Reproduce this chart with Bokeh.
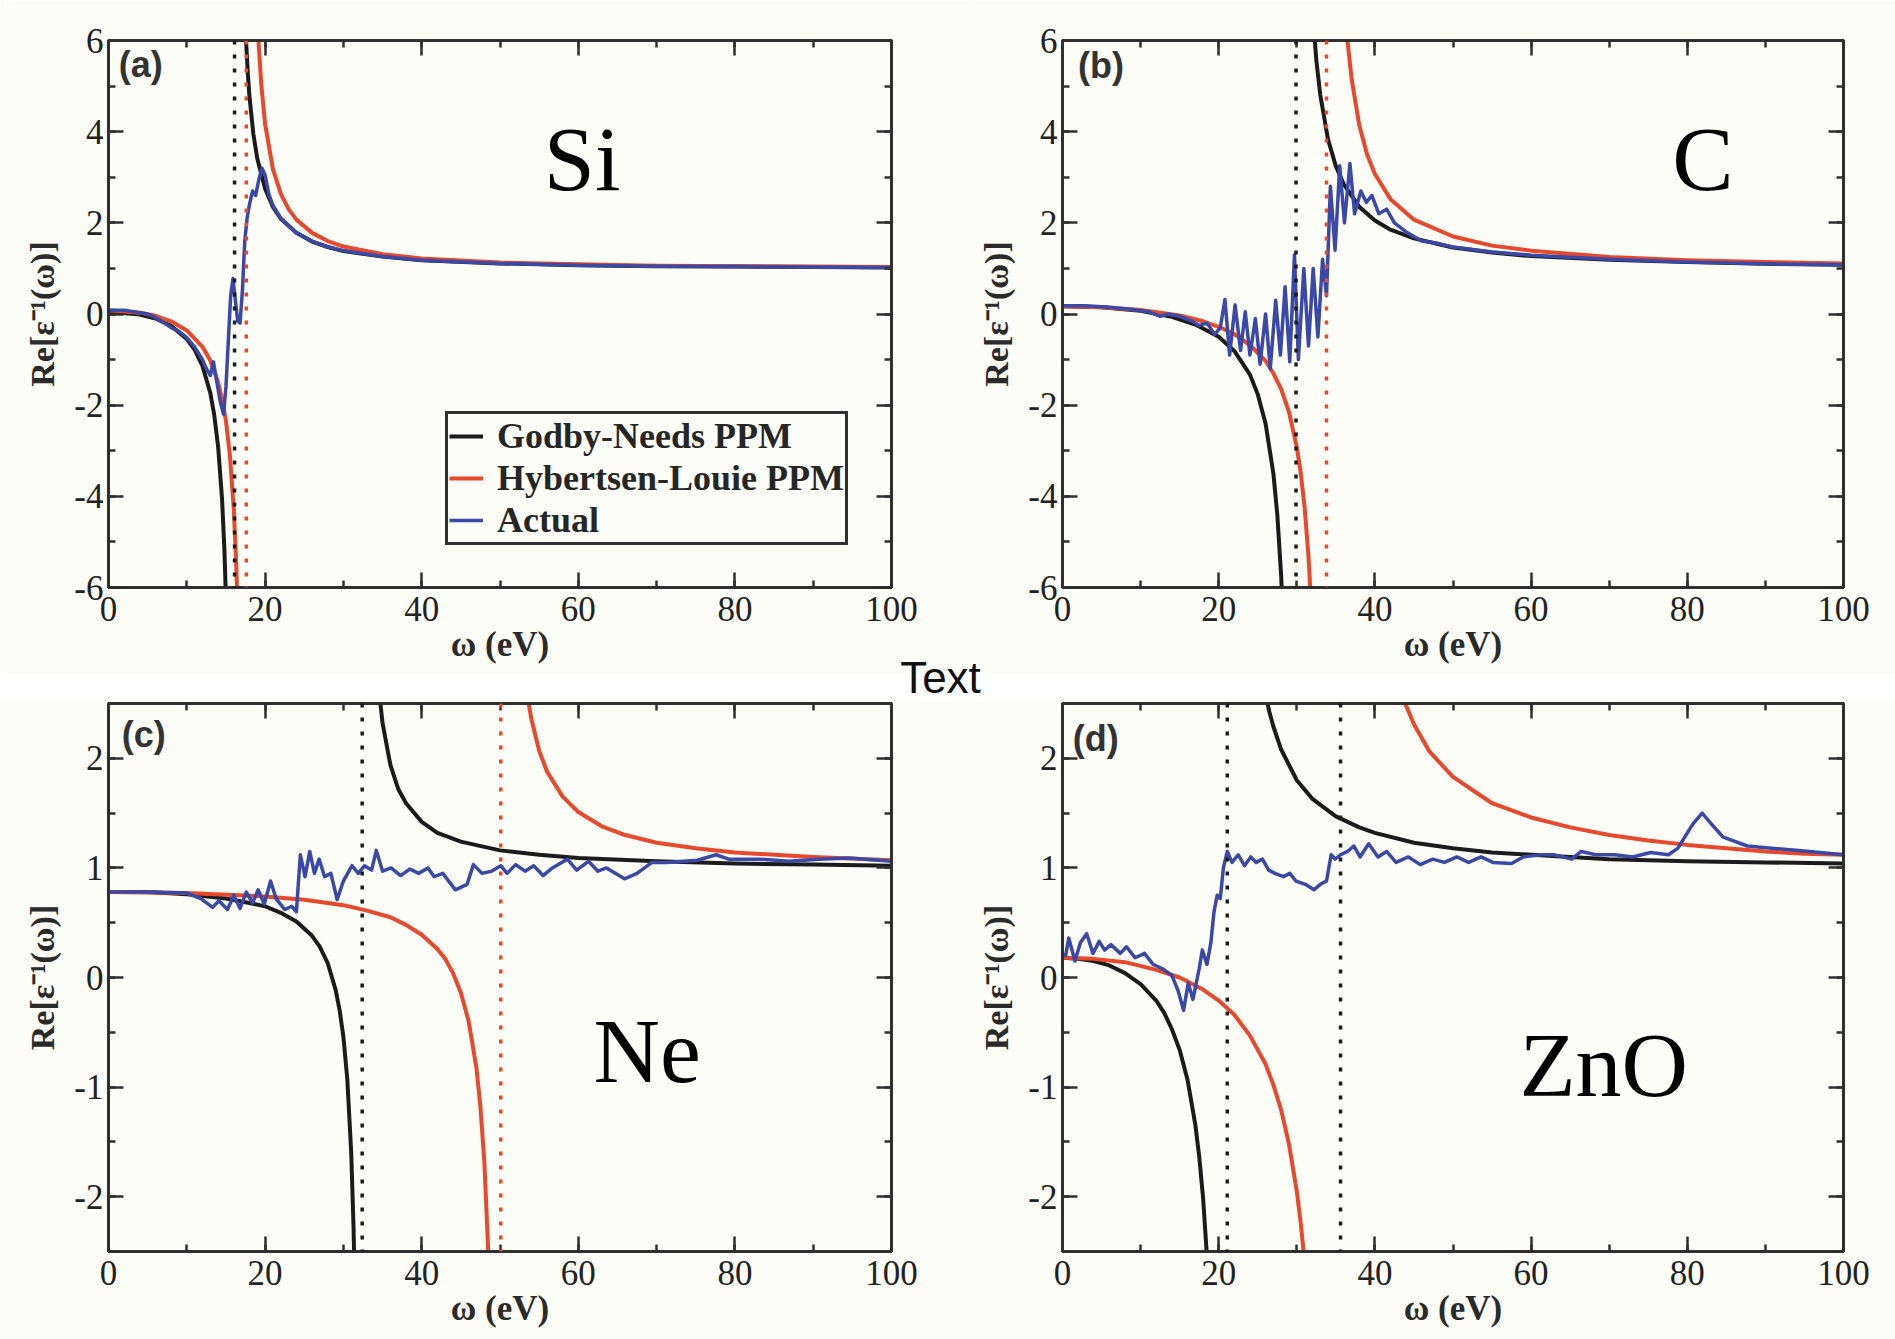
from bokeh.plotting import figure
from bokeh.models import (Range1d, LinearAxis, SingleIntervalTicker, Span, Label,
                          Legend, LegendItem)
from bokeh.layouts import column, row
from bokeh.embed import file_html
from bokeh.resources import INLINE

# ---------------- data ----------------
# omega (eV), Re[eps^-1(omega)] pairs
si_gn_lo = [(0, 0.05), (4, -0.01), (6, -0.10), (8, -0.26), (10, -0.55), (11, -0.78), (12, -1.14),
            (13, -1.73), (13.5, -2.21), (14, -2.91), (14.5, -4.05), (14.8, -5.16), (15.0, -6.24)]
si_gn_hi = [(17.5, 6.21), (17.8, 5.25), (18, 4.78), (18.5, 3.95), (19, 3.41), (20, 2.75), (21, 2.35),
            (22, 2.09), (24, 1.78), (26, 1.59), (28, 1.47), (30, 1.38), (35, 1.26), (40, 1.18),
            (50, 1.11), (60, 1.07), (70, 1.05), (80, 1.04), (90, 1.03), (100, 1.02)]
si_hl_lo = [(0, 0.08), (4, 0.03), (6, -0.04), (8, -0.16), (10, -0.36), (12, -0.72), (13, -1.02),
            (14, -1.50), (14.5, -1.86), (15, -2.35), (15.5, -3.09), (16, -4.28), (16.3, -5.43), (16.5, -6.55)]
si_hl_hi = [(19.0, 6.59), (19.2, 5.86), (19.5, 5.06), (20, 4.17), (21, 3.18), (22, 2.64), (23, 2.30),
            (24, 2.07), (26, 1.78), (28, 1.60), (30, 1.48), (35, 1.31), (40, 1.22), (50, 1.13),
            (60, 1.09), (70, 1.06), (80, 1.05), (90, 1.04), (100, 1.03)]
si_actual = [(0, 0.08), (2, 0.08), (4, 0.03), (5, 0.00), (6, -0.08), (7, -0.18), (8, -0.30), (9, -0.38),
             (10, -0.52), (11, -0.72), (12, -1.00), (12.5, -1.20), (13, -1.35), (13.4, -1.05), (13.8, -1.45),
             (14.3, -1.95), (14.7, -2.20), (15.0, -1.60), (15.3, -0.60), (15.6, 0.40), (15.9, 0.78),
             (16.2, 0.30), (16.5, -0.15), (16.8, -0.20), (17.1, 0.50), (17.4, 1.60), (17.7, 2.10),
             (18.0, 2.40), (18.4, 2.70), (18.8, 2.60), (19.2, 2.95), (19.6, 3.20), (20.0, 3.05),
             (20.5, 2.62), (21, 2.38), (22, 2.10), (24, 1.78), (26, 1.60), (28, 1.47), (30, 1.39),
             (35, 1.26), (40, 1.18), (50, 1.11), (60, 1.07), (70, 1.05), (80, 1.04), (90, 1.03), (100, 1.02)]
si_poles = [16.1, 17.6]

c_gn_lo = [(0, 0.17), (5, 0.15), (10, 0.07), (14, -0.06), (17, -0.23), (20, -0.50), (22, -0.81),
           (24, -1.33), (25, -1.76), (26, -2.40), (27, -3.50), (27.5, -4.39), (28, -5.75), (28.3, -6.97)]
c_gn_hi = [(32.1, 6.44), (32.5, 5.57), (33, 4.81), (34, 3.83), (35, 3.24), (36, 2.85), (38, 2.35),
           (40, 2.05), (42, 1.85), (45, 1.66), (50, 1.46), (55, 1.35), (60, 1.27), (70, 1.19),
           (80, 1.14), (90, 1.10), (100, 1.08)]
c_hl_lo = [(0, 0.17), (5, 0.15), (10, 0.09), (15, -0.03), (18, -0.16), (20, -0.28), (22, -0.44),
           (24, -0.68), (26, -1.03), (27, -1.30), (28, -1.65), (29, -2.15), (30, -2.92), (30.5, -3.48),
           (31, -4.24), (31.5, -5.33), (31.8, -6.25)]
c_hl_hi = [(36.3, 6.40), (36.5, 5.98), (37, 5.18), (38, 4.14), (39, 3.50), (40, 3.07), (42, 2.52),
           (45, 2.07), (50, 1.70), (55, 1.50), (60, 1.39), (70, 1.25), (80, 1.18), (90, 1.14), (100, 1.11)]
c_actual = [(0, 0.18), (3, 0.18), (6, 0.15), (9, 0.10), (11, 0.05), (12.5, -0.05), (13.5, 0.00),
            (15, -0.05), (16.5, -0.15), (17.5, -0.25), (18.5, -0.20), (19.5, -0.45), (20.2, -0.30),
            (20.8, 0.32), (21.4, -0.90), (22.1, 0.20), (22.8, -0.80), (23.4, 0.05), (24.0, -0.90),
            (24.7, -0.10), (25.3, -1.10), (26.0, 0.00), (26.6, -1.20), (27.3, 0.30), (27.9, -0.90),
            (28.5, 0.60), (29.1, -1.05), (29.7, 1.30), (30.2, -1.00), (30.9, 1.00), (31.5, -0.70),
            (32.1, 1.00), (32.7, -0.50), (33.3, 1.20), (33.8, 0.40), (34.3, 2.80), (34.9, 1.40),
            (35.5, 3.25), (36.1, 2.00), (36.8, 3.30), (37.4, 2.20), (38.2, 2.70), (38.9, 2.45),
            (39.6, 2.60), (40.5, 2.20), (41.5, 2.30), (42.5, 2.00), (44, 1.80), (46, 1.60), (48, 1.55),
            (50, 1.47), (55, 1.36), (60, 1.29), (70, 1.20), (80, 1.14), (90, 1.10), (100, 1.08)]
c_poles = [29.9, 33.8]

ne_gn_lo = [(0, 0.78), (5, 0.78), (10, 0.76), (15, 0.72), (18, 0.68), (20, 0.65), (22, 0.59), (24, 0.51),
            (26, 0.38), (27, 0.28), (28, 0.13), (29, -0.11), (29.5, -0.29), (30, -0.54), (30.5, -0.93),
            (31, -1.60), (31.3, -2.29), (31.5, -3.00)]
ne_gn_hi = [(34.5, 2.65), (35, 2.32), (36, 1.94), (37, 1.72), (38, 1.59), (40, 1.42), (42, 1.32),
            (45, 1.24), (50, 1.16), (55, 1.12), (60, 1.09), (70, 1.06), (80, 1.04), (90, 1.03), (100, 1.02)]
ne_hl_lo = [(0, 0.78), (10, 0.77), (20, 0.74), (25, 0.71), (30, 0.66), (33, 0.61), (36, 0.55), (38, 0.48),
            (40, 0.39), (42, 0.26), (43, 0.17), (44, 0.04), (45, -0.14), (46, -0.40), (47, -0.83),
            (47.5, -1.18), (48, -1.68), (48.5, -2.50), (48.7, -2.99)]
ne_hl_hi = [(53.5, 2.57), (54, 2.36), (55, 2.07), (56, 1.88), (58, 1.65), (60, 1.51), (63, 1.38),
            (66, 1.30), (70, 1.23), (75, 1.18), (80, 1.14), (90, 1.10), (100, 1.07)]
ne_actual = [(0, 0.78), (5, 0.78), (10, 0.77), (11.8, 0.72), (13.3, 0.64), (14.1, 0.70), (15.2, 0.62),
             (16.0, 0.75), (16.8, 0.63), (17.6, 0.78), (18.4, 0.68), (19.1, 0.80), (19.9, 0.67),
             (20.7, 0.88), (21.4, 0.72), (22.5, 0.62), (23.4, 0.65), (24.0, 0.60), (24.5, 1.12),
             (25.1, 0.92), (25.7, 1.15), (26.3, 0.95), (26.9, 1.08), (27.6, 0.92), (28.4, 0.95),
             (29.2, 0.71), (30.0, 0.88), (31.1, 1.02), (31.9, 0.95), (32.7, 1.02), (33.6, 0.98),
             (34.2, 1.16), (35.0, 0.97), (36.1, 1.00), (37.3, 0.93), (38.5, 0.99), (39.6, 0.95),
             (40.8, 1.00), (41.6, 0.92), (42.7, 0.95), (44.3, 0.80), (45.8, 0.85), (46.6, 1.03),
             (47.7, 0.95), (48.9, 0.97), (50.1, 1.02), (50.9, 0.95), (52.0, 1.03), (53.2, 0.97),
             (54.3, 1.02), (55.5, 0.93), (56.7, 1.00), (58.6, 1.08), (59.8, 0.98), (61.3, 1.06),
             (62.5, 0.97), (63.6, 1.00), (65.9, 0.90), (67.5, 0.95), (69.4, 1.05), (71.3, 1.05),
             (75.2, 1.07), (77.6, 1.12), (79.2, 1.08), (83.1, 1.08), (86.9, 1.06), (90.7, 1.08),
             (94.6, 1.09), (100, 1.06)]
ne_poles = [32.4, 50.1]

zn_gn_lo = [(0, 0.18), (2, 0.17), (4, 0.15), (6, 0.11), (8, 0.04), (10, -0.06), (12, -0.21), (13, -0.32),
            (14, -0.47), (15, -0.66), (16, -0.93), (17, -1.34), (17.5, -1.63), (18, -2.01), (18.5, -2.55),
            (18.8, -2.98)]
zn_gn_hi = [(26.0, 2.58), (26.5, 2.42), (27, 2.29), (28, 2.08), (30, 1.80), (32, 1.63), (35, 1.47),
            (38, 1.37), (40, 1.32), (45, 1.23), (50, 1.18), (55, 1.14), (60, 1.12), (70, 1.08),
            (80, 1.06), (90, 1.05), (100, 1.04)]
zn_hl_lo = [(0, 0.18), (4, 0.17), (8, 0.14), (12, 0.07), (15, 0.00), (18, -0.11), (20, -0.21), (22, -0.34),
            (24, -0.53), (26, -0.79), (27, -0.98), (28, -1.21), (29, -1.52), (30, -1.95), (30.5, -2.24),
            (31, -2.59), (31.3, -2.84)]
zn_hl_hi = [(43.7, 2.54), (44, 2.48), (45, 2.31), (47, 2.06), (50, 1.83), (55, 1.59), (60, 1.46),
            (65, 1.37), (70, 1.30), (75, 1.25), (80, 1.21), (85, 1.18), (90, 1.15), (95, 1.13), (100, 1.12)]
zn_actual = [(0.0, 0.20), (0.4, 0.20), (0.8, 0.36), (1.6, 0.15), (2.3, 0.32), (3.1, 0.40), (3.9, 0.22),
             (4.7, 0.33), (5.4, 0.25), (6.2, 0.30), (7.4, 0.22), (8.2, 0.28), (9.3, 0.18), (10.5, 0.22),
             (11.6, 0.12), (12.8, 0.08), (14.0, 0.02), (14.8, -0.12), (15.5, -0.30), (16.1, -0.05),
             (16.7, -0.20), (17.5, 0.08), (17.9, 0.25), (18.5, 0.12), (19.0, 0.32), (19.4, 0.60),
             (19.8, 0.75), (20.2, 0.72), (20.6, 1.00), (21.1, 1.15), (21.7, 1.05), (22.5, 1.12),
             (23.3, 1.02), (24.1, 1.10), (24.8, 1.05), (25.6, 1.08), (26.4, 0.98), (27.2, 0.95),
             (28.3, 0.92), (29.1, 0.95), (29.9, 0.88), (31.1, 0.85), (32.2, 0.80), (33.0, 0.85),
             (33.8, 0.88), (34.4, 1.12), (34.9, 1.08), (35.6, 1.12), (36.5, 1.15), (37.3, 1.20),
             (38.1, 1.10), (39.2, 1.22), (40.4, 1.10), (41.5, 1.15), (42.7, 1.05), (44.3, 1.10),
             (45.8, 1.03), (47.4, 1.08), (48.9, 1.05), (50.5, 1.10), (52.0, 1.05), (53.6, 1.10),
             (55.1, 1.05), (57.5, 1.04), (59.0, 1.10), (61.3, 1.12), (62.9, 1.12), (65.2, 1.08),
             (66.4, 1.15), (68.3, 1.12), (70.7, 1.12), (73.0, 1.10), (75.3, 1.14), (77.6, 1.12),
             (78.8, 1.18), (80.7, 1.40), (81.9, 1.50), (83.1, 1.40), (84.6, 1.28), (87.7, 1.20),
             (90.8, 1.18), (93.9, 1.16), (97.0, 1.14), (100, 1.12)]
zn_poles = [21.1, 35.6]

series_names = ["Godby-Needs PPM", "Hybertsen-Louie PPM", "Actual"]
panel_tags = ["(a)", "(b)", "(c)", "(d)"]
materials = ["Si", "C", "Ne", "ZnO"]
x_label = "ω (eV)"
y_label = "Re[ε⁻¹(ω)]"
middle_text = "Text"
y_ticks_wide = {-6: "-6", -4: "-4", -2: "-2", 0: "0", 2: "2", 4: "4", 6: "6"}
y_ticks_narrow = {-2: "-2", -1: "-1", 0: "0", 1: "1", 2: "2"}

# ---------------- style ----------------
BG = "#fdfdf7"
AX = "#2f2f2f"
BLACK = "#1b1b1b"
RED = "#e8482c"
BLUE = "#3a49a8"
SERIF = "Liberation Serif"


def style_axis(ax, ticker, labels):
    ax.ticker = ticker
    ax.axis_line_color = AX
    ax.axis_line_width = 3
    ax.major_tick_line_color = AX
    ax.major_tick_line_width = 2.5
    ax.minor_tick_line_color = AX
    ax.minor_tick_line_width = 2.5
    ax.major_tick_in = 15
    ax.major_tick_out = 0
    ax.minor_tick_in = 7
    ax.minor_tick_out = 0
    if labels:
        ax.major_label_text_font = SERIF
        ax.major_label_text_font_size = "35px"
        ax.major_label_text_color = "#222222"
        ax.axis_label_text_font = SERIF
        ax.axis_label_text_font_style = "bold"
        ax.axis_label_text_color = "#2a2a2a"
    else:
        ax.major_label_text_font_size = "1px"
        ax.major_label_text_color = None
        ax.major_label_standoff = 0
        ax.axis_label_standoff = 0


def make_panel(width, height, ylim, ystep, yticks, borders):
    p = figure(width=width, height=height, x_range=Range1d(0, 100), y_range=Range1d(*ylim),
               output_backend="svg", toolbar_location=None, tools="",
               background_fill_color=BG, border_fill_color=BG,
               min_border_left=borders[0], min_border_right=borders[1],
               min_border_top=borders[2], min_border_bottom=borders[3])
    p.xgrid.visible = False
    p.ygrid.visible = False
    p.outline_line_color = AX
    p.outline_line_width = 3
    xa = p.xaxis[0]
    ya = p.yaxis[0]
    style_axis(xa, SingleIntervalTicker(interval=20, num_minor_ticks=2), True)
    style_axis(ya, SingleIntervalTicker(interval=ystep, num_minor_ticks=2), True)
    ya.major_label_overrides = yticks
    xa.axis_label = x_label
    xa.axis_label_text_font_size = "35px"
    xa.major_label_standoff = 9
    xa.axis_label_standoff = 1
    ya.axis_label = y_label
    ya.axis_label_text_font_size = "34px"
    ya.major_label_standoff = 5
    ya.axis_label_standoff = 10
    top = LinearAxis()
    style_axis(top, SingleIntervalTicker(interval=20, num_minor_ticks=2), False)
    p.add_layout(top, "above")
    rt = LinearAxis()
    style_axis(rt, SingleIntervalTicker(interval=ystep, num_minor_ticks=2), False)
    p.add_layout(rt, "right")
    return p


def draw(p, gn_lo, gn_hi, hl_lo, hl_hi, actual, poles, pole_colors):
    rends = []
    for pts, col, lw in [(gn_lo, BLACK, 4), (gn_hi, BLACK, 4), (hl_lo, RED, 4),
                         (hl_hi, RED, 4), (actual, BLUE, 3.5)]:
        r = p.line([a for a, b in pts], [b for a, b in pts], line_color=col, line_width=lw,
                   line_join="round")
        rends.append(r)
    for loc, col in zip(poles, pole_colors):
        p.add_layout(Span(location=loc, dimension="height", line_color=col,
                          line_dash="4 10", line_width=3.5))
    return rends


W_L, W_R = 975, 920
H_T, H_M, H_B = 674, 61, 639
OVERLAP_TOP, OVERLAP_BOTTOM = 25, 10

pa = make_panel(W_L, H_T, (-6, 6), 2, y_ticks_wide, (108, 84, 40, 87))
pb = make_panel(W_R, H_T, (-6, 6), 2, y_ticks_wide, (84, 52, 40, 87))
pc = make_panel(W_L, H_B, (-2.5, 2.5), 1, y_ticks_narrow, (108, 84, 3, 88))
pd = make_panel(W_R, H_B, (-2.5, 2.5), 1, y_ticks_narrow, (84, 52, 3, 88))

ra = draw(pa, si_gn_lo, si_gn_hi, si_hl_lo, si_hl_hi, si_actual, si_poles, [BLACK, RED])
draw(pb, c_gn_lo, c_gn_hi, c_hl_lo, c_hl_hi, c_actual, c_poles, [BLACK, RED])
draw(pc, ne_gn_lo, ne_gn_hi, ne_hl_lo, ne_hl_hi, ne_actual, ne_poles, [BLACK, RED])
draw(pd, zn_gn_lo, zn_gn_hi, zn_hl_lo, zn_hl_hi, zn_actual, zn_poles, [BLACK, BLACK])

legend = Legend(items=[LegendItem(label=series_names[0], renderers=[ra[0]]),
                       LegendItem(label=series_names[1], renderers=[ra[2]]),
                       LegendItem(label=series_names[2], renderers=[ra[4]])],
                location=(337, 42))
legend.label_text_font = SERIF
legend.label_text_font_style = "bold"
legend.label_text_font_size = "36px"
legend.label_text_color = "#262626"
legend.glyph_width = 34
legend.glyph_height = 36
legend.label_height = 36
legend.label_standoff = 14
legend.padding = 1
legend.spacing = 0
legend.margin = 0
legend.border_line_color = AX
legend.border_line_width = 3
legend.border_line_alpha = 1.0
legend.background_fill_color = BG
legend.background_fill_alpha = 1.0
pa.add_layout(legend)

# panel tags and material names
tag_pos = [(1.3, 5.92), (2.0, 5.90), (1.7, 2.40), (1.3, 2.37)]
mat_pos = [(60.5, 3.39), (82.0, 3.39), (68.8, -0.67), (69.3, -0.80)]
for p, tag, tp, mat, mp in zip([pa, pb, pc, pd], panel_tags, tag_pos, materials, mat_pos):
    p.add_layout(Label(x=tp[0], y=tp[1], text=tag, text_font="Liberation Sans",
                       text_font_size="36px", text_font_style="bold", text_color="#333333",
                       text_baseline="top", text_align="left"))
    p.add_layout(Label(x=mp[0], y=mp[1], text=mat, text_font=SERIF, text_font_size="92px",
                       text_color="black", text_baseline="alphabetic", text_align="center"))

# transparent strip overlapping the gap between the two rows, carrying the free "Text" caption
pt = figure(width=1895, height=H_M, x_range=Range1d(0, 1895), y_range=Range1d(0, H_M),
            output_backend="svg", toolbar_location=None, tools="",
            x_axis_location=None, y_axis_location=None,
            min_border=0, min_border_left=0, min_border_right=0, min_border_top=0, min_border_bottom=0,
            background_fill_alpha=0, border_fill_alpha=0)
pt.outline_line_color = None
pt.xgrid.visible = False
pt.ygrid.visible = False
pt.add_layout(Label(x=940, y=23 + OVERLAP_BOTTOM, text=middle_text, text_font="Liberation Sans",
                    text_font_size="44px", text_color="#111111", text_baseline="alphabetic",
                    text_align="center"))
pt.margin = (-OVERLAP_TOP, 0, 0, 0)

bottom_row = row(pc, pd)
bottom_row.margin = (-OVERLAP_BOTTOM, 0, 0, 0)

layout = column(row(pa, pb), pt, bottom_row)
html = file_html(layout, INLINE)
html = html.replace("<body>", '<body style="margin:0;background:%s;">' % BG, 1)
open("out.html", "w").write(html)
